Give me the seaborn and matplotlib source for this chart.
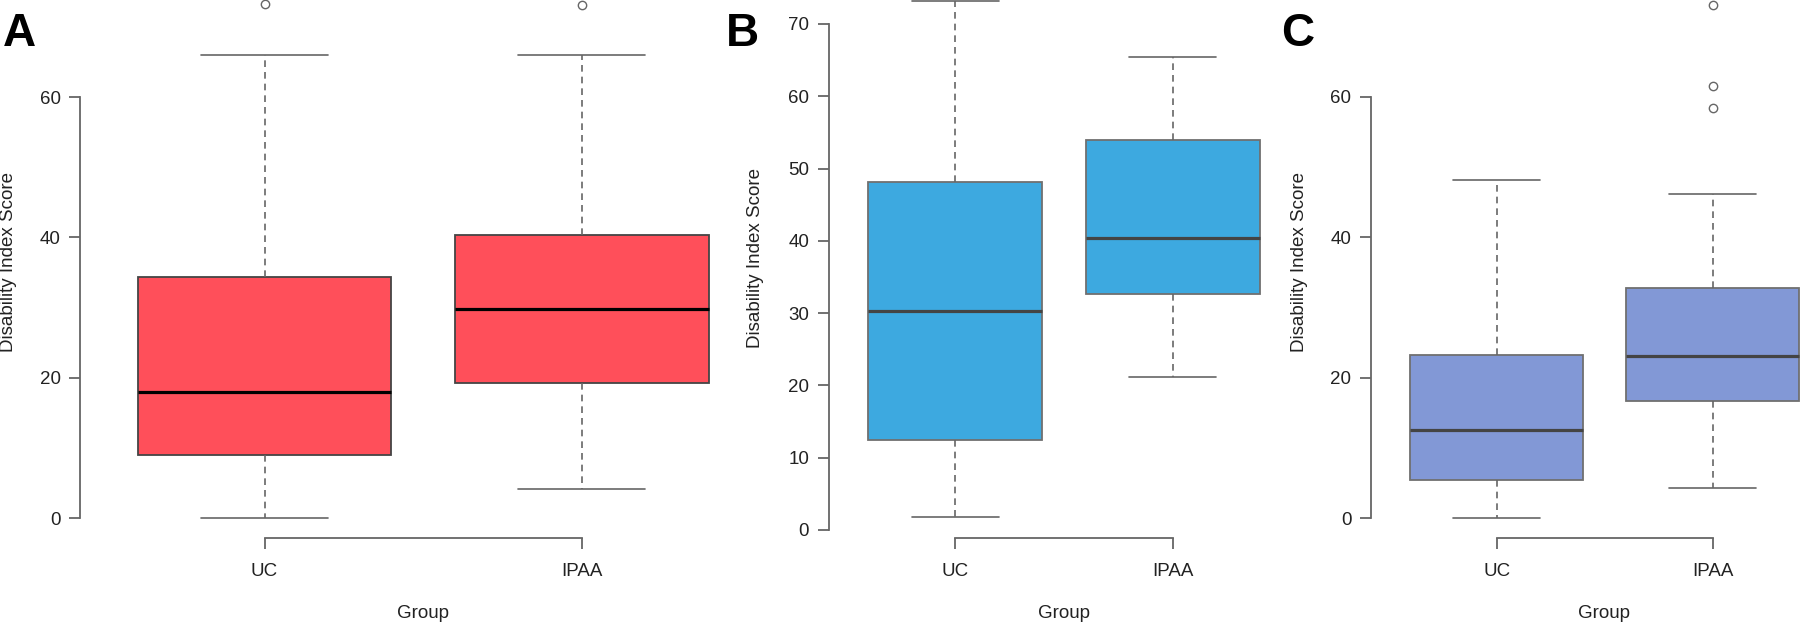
import seaborn as sns
import matplotlib.pyplot as plt
from matplotlib.ticker import FixedLocator

# group labels
groups = ["UC", "IPAA"]

# panel A: five-number summaries, plus outliers
a_low = [0.0, 4.2]
a_q1 = [9.0, 19.2]
a_med = [17.9, 29.8]
a_q3 = [34.3, 40.3]
a_high = [66.0, 66.0]
a_out = [[73.2], [73.1]]
a_ticks = [0, 20, 40, 60]

# panel B
b_low = [1.8, 21.2]
b_q1 = [12.5, 32.7]
b_med = [30.3, 40.4]
b_q3 = [48.2, 53.9]
b_high = [73.2, 65.4]
b_out = [[], []]
b_ticks = [0, 10, 20, 30, 40, 50, 60, 70]

# panel C
c_low = [0.0, 4.25]
c_q1 = [5.4, 16.7]
c_med = [12.6, 23.1]
c_q3 = [23.2, 32.7]
c_high = [48.2, 46.2]
c_out = [[], [58.4, 61.5, 73.1]]
c_ticks = [0, 20, 40, 60]

sns.set_style("white")
plt.rcParams['font.family'] = ['Liberation Sans', 'DejaVu Sans']

W, H = 1800, 624
fig = plt.figure(figsize=(W / 100, H / 100), dpi=100)

GREY = "#666666"
FS = 13.5


def make_stats(low, q1, med, q3, high, out):
    stats = []
    for i in range(len(groups)):
        stats.append({"label": groups[i], "whislo": low[i], "q1": q1[i], "med": med[i],
                      "q3": q3[i], "whishi": high[i], "fliers": out[i]})
    return stats


def panel(stats, ticks, fill, edge, medcol, spine_px, crop_px, uc_px, ipaa_px, zero_px, ppu,
          letter, letter_x, ylab_px, xlab_px, bracket_px=538):
    # place the axes in pixel terms so the scale matches the reference
    ax = fig.add_axes([spine_px / W, 1 - bracket_px / H, (crop_px - spine_px) / W, bracket_px / H])
    spacing = ipaa_px - uc_px
    ax.set_xlim((spine_px - uc_px) / spacing, (crop_px - uc_px) / spacing)
    ax.set_ylim(-(bracket_px - zero_px) / ppu, zero_px / ppu)

    ax.bxp(stats, positions=[0, 1], widths=0.8, capwidths=0.4, patch_artist=True,
           boxprops=dict(facecolor=fill, edgecolor=edge, linewidth=1.3),
           medianprops=dict(color=medcol, linewidth=2.3, solid_capstyle="butt"),
           whiskerprops=dict(color=GREY, linewidth=1.2, linestyle=(0, (4, 3))),
           capprops=dict(color=GREY, linewidth=1.2),
           flierprops=dict(marker="o", markersize=6, markerfacecolor="none",
                           markeredgecolor=GREY, markeredgewidth=1.0))

    sns.despine(ax=ax, top=True, right=True)
    for side in ["left", "bottom"]:
        ax.spines[side].set_color(GREY)
        ax.spines[side].set_linewidth(1.3)
    ax.spines["left"].set_bounds(ticks[0], ticks[-1])
    ax.spines["bottom"].set_bounds(0, 1)

    ax.yaxis.set_major_locator(FixedLocator(ticks))
    ax.set_xticks([0, 1])
    ax.set_xticklabels(groups)
    ax.tick_params(axis="both", direction="out", length=8, width=1.3, color=GREY,
                   labelsize=FS, labelcolor="#222222")
    ax.tick_params(axis="y", pad=6, left=True)
    ax.tick_params(axis="x", pad=10, bottom=True)

    ax.set_ylabel("Disability Index Score", fontsize=FS, color="#222222", va="center")
    ax.yaxis.set_label_coords(ylab_px[0] / W, 1 - ylab_px[1] / H, transform=fig.transFigure)
    ax.set_xlabel("Group", fontsize=FS, color="#222222", va="center")
    ax.xaxis.set_label_coords(xlab_px[0] / W, 1 - xlab_px[1] / H, transform=fig.transFigure)

    fig.text(letter_x / W, 1 - 46 / H, letter, fontsize=33, fontweight="bold",
             ha="left", va="baseline", color="black")
    return ax


panel(make_stats(a_low, a_q1, a_med, a_q3, a_high, a_out), a_ticks, "#FF4F5A", "#444444", "black",
      80.3, 716, 264.5, 581.7, 518.1, 7.017, "A", 3, (9, 262), (423, 613))
panel(make_stats(b_low, b_q1, b_med, b_q3, b_high, b_out), b_ticks, "#3DA9E0", "#707070", "#444444",
      828.6, 1266, 955.4, 1172.9, 530.0, 7.23, "B", 726, (756, 258), (1064, 613))
panel(make_stats(c_low, c_q1, c_med, c_q3, c_high, c_out), c_ticks, "#8298D6", "#707070", "#444444",
      1370.9, 1800, 1496.6, 1712.5, 518.1, 7.023, "C", 1281, (1299, 262), (1604, 613))

fig.savefig("out.png", dpi=100)
